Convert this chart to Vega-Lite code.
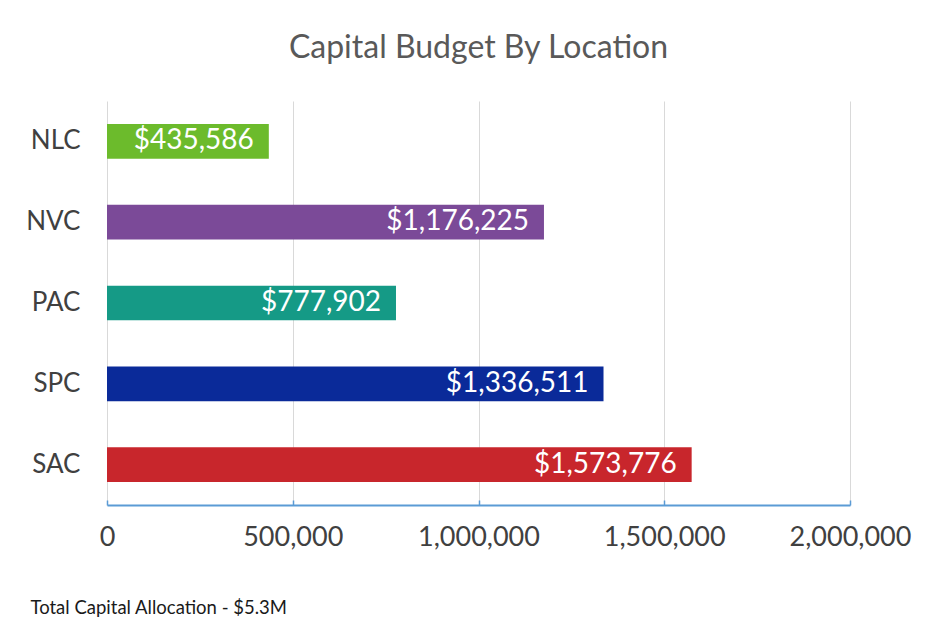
{
  "$schema": "https://vega.github.io/schema/vega-lite/v6.json",
  "autosize": "none",
  "width": 743,
  "height": 404,
  "padding": {"left": 107, "top": 101, "right": 83, "bottom": 126},
  "background": "white",
  "config": {
    "font": "Lato",
    "view": {"stroke": null}
  },
  "title": {
    "text": "Capital Budget By Location",
    "fontSize": 32,
    "font": "Lato",
    "fontWeight": "normal",
    "color": "#595959",
    "anchor": "middle",
    "offset": 36
  },
  "data": {
    "values": [
      {"loc": "NLC", "value": 435586, "label": "$435,586"},
      {"loc": "NVC", "value": 1176225, "label": "$1,176,225"},
      {"loc": "PAC", "value": 777902, "label": "$777,902"},
      {"loc": "SPC", "value": 1336511, "label": "$1,336,511"},
      {"loc": "SAC", "value": 1573776, "label": "$1,573,776"}
    ]
  },
  "encoding": {
    "y": {
      "field": "loc",
      "type": "nominal",
      "sort": null,
      "scale": {"paddingInner": 0.57, "paddingOuter": 0.285},
      "axis": {
        "title": null,
        "ticks": false,
        "domain": false,
        "labelPadding": 27,
        "labelFontSize": 26,
        "labelColor": "#404040",
        "labelFont": "Lato"
      }
    },
    "x": {
      "field": "value",
      "type": "quantitative",
      "scale": {"domain": [0, 2000000]},
      "axis": {
        "values": [0, 500000, 1000000, 1500000, 2000000],
        "format": ",d",
        "grid": true,
        "gridColor": "#d9d9d9",
        "gridWidth": 1,
        "domainColor": "#5B9BD5",
        "domainWidth": 2,
        "tickColor": "#5B9BD5",
        "tickSize": -5,
        "tickWidth": 1.5,
        "labelFlush": false,
        "labelPadding": 24,
        "labelFontSize": 27,
        "labelColor": "#404040",
        "labelFont": "Lato",
        "title": "Total Capital Allocation - $5.3M",
        "titleFont": "Lato",
        "titleFontSize": 18.5,
        "titleFontWeight": "normal",
        "titleColor": "#1a1a1a",
        "titleAnchor": "start",
        "titleAlign": "left",
        "titleBaseline": "middle",
        "titleX": -77,
        "titleY": 102
      }
    }
  },
  "layer": [
    {
      "mark": {"type": "bar"},
      "encoding": {
        "color": {
          "field": "loc",
          "type": "nominal",
          "scale": {
            "domain": ["NLC", "NVC", "PAC", "SPC", "SAC"],
            "range": ["#6CBB2C", "#7B4A98", "#159A86", "#0A2A99", "#C8262C"]
          },
          "legend": null
        }
      }
    },
    {
      "mark": {"type": "text", "align": "right", "baseline": "middle", "dx": -15, "fontSize": 28, "color": "white", "font": "Lato"},
      "encoding": {
        "text": {"field": "label"}
      }
    }
  ]
}
